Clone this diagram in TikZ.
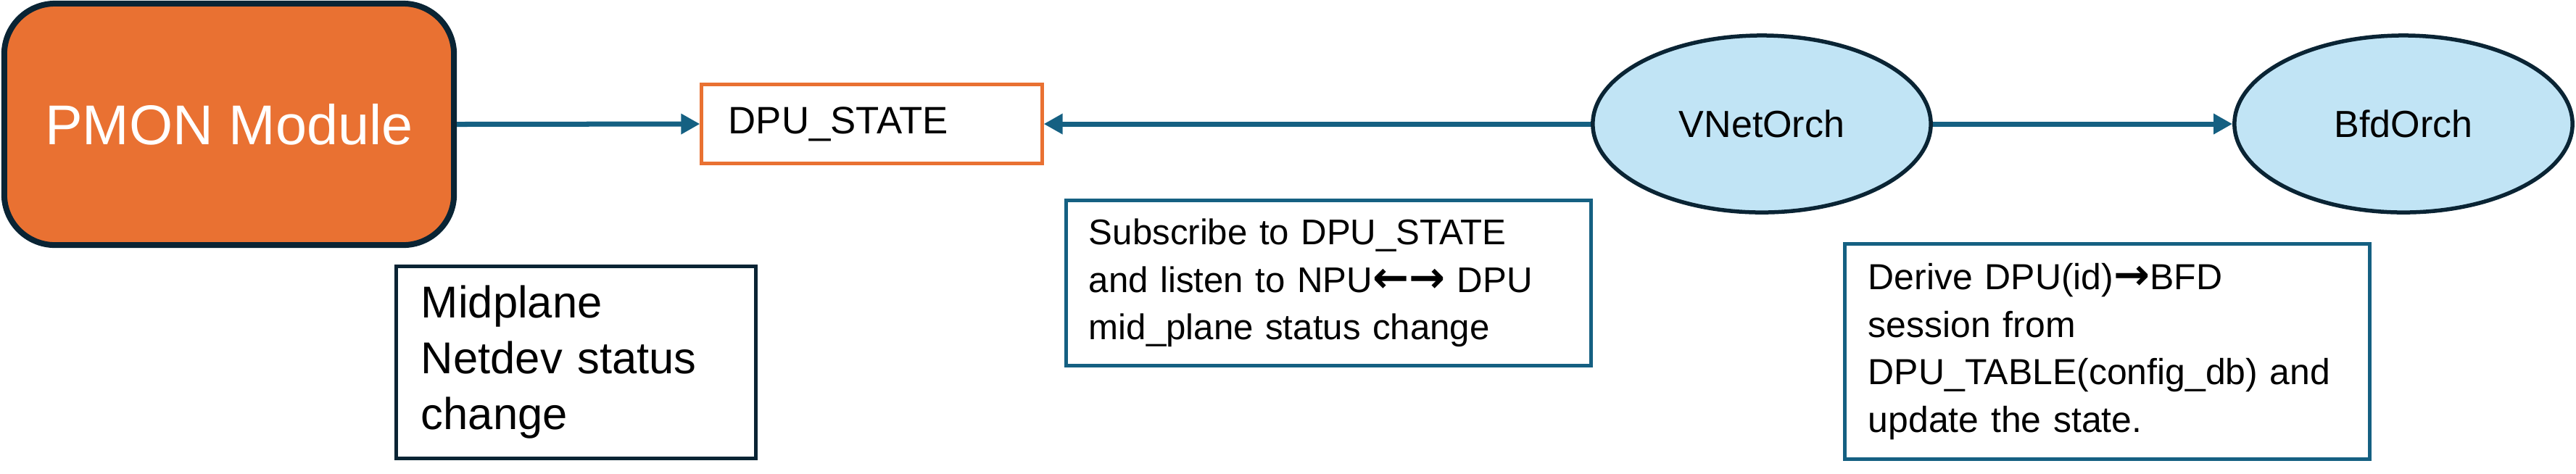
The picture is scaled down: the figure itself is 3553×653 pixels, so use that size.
\documentclass[tikz,border=0pt]{standalone}
\usepackage{fontspec}
\setmainfont{Liberation Sans}
\newfontfamily\symf{DejaVu Sans}
\usetikzlibrary{arrows.meta,shapes.geometric}
\definecolor{pmonorange}{HTML}{E97132}
\definecolor{darkline}{HTML}{0A2434}
\definecolor{linkblue}{HTML}{156082}
\definecolor{lightblue}{HTML}{C1E4F5}
\newcommand{\arrsym}[1]{{\symf\bfseries\fontsize{17}{17}\selectfont #1}}
\begin{document}
\begin{tikzpicture}[x=0.01cm,y=-0.01cm,
  pmonbox/.style={draw=darkline,fill=pmonorange,line width=0.08cm,rounded corners=0.7cm,
    minimum width=6.2cm,minimum height=3.33cm,inner sep=0pt,text=white,
    font=\fontsize{22}{26}\selectfont},
  statebox/.style={draw=pmonorange,fill=white,line width=0.05cm,minimum height=1.08cm,
    inner xsep=0.37cm,inner ysep=0pt,text width=3.95cm,align=left,
    font=\fontsize{15}{18}\selectfont},
  orchnode/.style={ellipse,draw=darkline,fill=lightblue,line width=0.055cm,
    minimum width=4.66cm,minimum height=2.44cm,inner sep=0pt,
    font=\fontsize{14.8}{18}\selectfont},
  notedark/.style={draw=darkline,line width=0.05cm,align=left},
  noteblue/.style={draw=linkblue,line width=0.05cm,align=left},
  flow/.style={draw=linkblue,line width=0.07cm,-{Triangle[length=0.26cm,width=0.27cm]}}
]
\useasboundingbox (0,0) rectangle (3553,653);

\node[pmonbox] (pmon) at (316,171.5) {PMON Module};
\node[statebox] (state) at (1202.5,171) {DPU\_STATE};
\node[orchnode] (vnet) at (2430,171) {VNetOrch};
\node[orchnode] (bfd) at (3315,171) {BfdOrch};

\node[notedark,inner xsep=0.345cm,inner ysep=0pt,text width=4.27cm,minimum height=2.65cm,
  font=\fontsize{17.5}{21.9}\selectfont] (mid) at (794.5,500)
  {Midplane\\Netdev status\\change};
\node[noteblue,inner xsep=0.315cm,inner ysep=0pt,text width=6.61cm,minimum height=2.28cm,
  font=\fontsize{14}{18.6}\selectfont] (sub) at (1832.5,390.5)
  {Subscribe to DPU\_STATE\\and listen to NPU\arrsym{←→} DPU\\mid\_plane status change};
\node[noteblue,inner xsep=0.325cm,inner ysep=0pt,text width=6.59cm,minimum height=2.97cm,
  font=\fontsize{14.2}{18.6}\selectfont] (der) at (2906.5,485)
  {Derive DPU(id)\arrsym{→}BFD\\session from\\DPU\_TABLE(config\_db) and\\update the state.};

\draw[flow] (pmon.east) -- (state.west);
\draw[flow] (vnet.west) -- (state.east);
\draw[flow] (vnet.east) -- (bfd.west);
\end{tikzpicture}
\end{document}
